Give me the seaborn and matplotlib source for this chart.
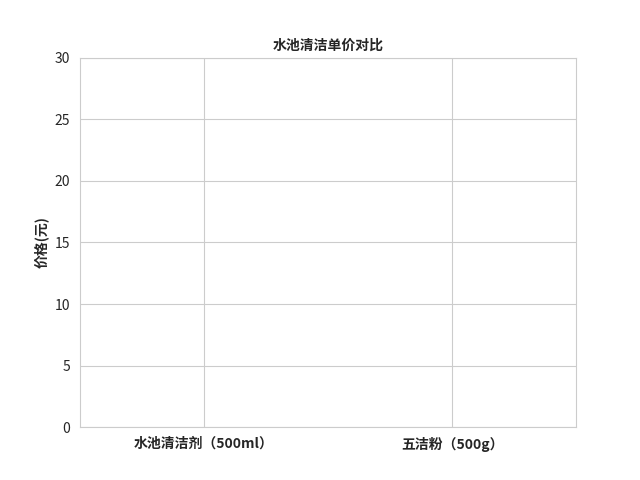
import numpy as np
import pandas as pd
import matplotlib
matplotlib.use("Agg")
import matplotlib.pyplot as plt
import seaborn as sns

# data
products = ["水池清洁剂（500ml）", "五洁粉（500g）"]
prices = [0, 0]

sns.set_style("whitegrid")
plt.rcParams['font.family'] = ['Noto Sans CJK SC', 'DejaVu Sans']
plt.rcParams['axes.unicode_minus'] = False

df = pd.DataFrame({"产品": products, "价格": prices})

fig, ax = plt.subplots(figsize=(6.4, 4.8), dpi=100)
sns.barplot(data=df, x="产品", y="价格", order=products, ax=ax, linewidth=0)
ax.set_ylim(0, 30)
ax.set_yticks(range(0, 31, 5))
ax.grid(True, axis="both")
ax.set_title("水池清洁单价对比", fontsize=10, fontweight="bold")
ax.set_ylabel("价格(元)", fontsize=10, fontweight="bold")
ax.set_xlabel("")
ax.tick_params(axis="x", labelsize=10)
ax.tick_params(axis="y", labelsize=10)
for lbl in ax.get_xticklabels():
    lbl.set_fontweight("bold")

fig.savefig("out.png", dpi=100)
